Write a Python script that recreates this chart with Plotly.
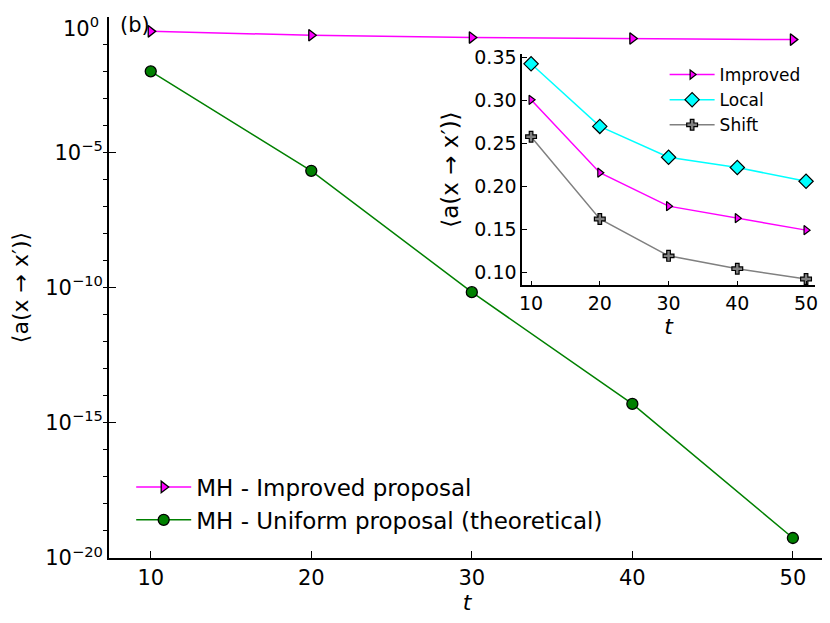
import plotly.graph_objects as go

# Данные основного графика
t = [10, 20, 30, 40, 50]
improved_main = [0.301, 0.216, 0.177, 0.163, 0.149]
uniform_theory = [1.0e-2, 2.1e-6, 6.8e-11, 5.0e-15, 5.5e-20]

# Данные вставки
improved_inset = [0.301, 0.216, 0.177, 0.163, 0.149]
local_inset = [0.343, 0.270, 0.234, 0.222, 0.206]
shift_inset = [0.258, 0.162, 0.119, 0.104, 0.092]

y_tickvals = [1e-20, 1e-15, 1e-10, 1e-5, 1]
# подпись 10^0 у самого края рисуется отдельной аннотацией
y_ticktext = ['10<sup>−20</sup>', '10<sup>−15</sup>', '10<sup>−10</sup>', '10<sup>−5</sup>', '']
top_label = '10<sup>0</sup>'
inset_ticks = [0.10, 0.15, 0.20, 0.25, 0.30, 0.35]

ylab = '⟨a(x → x′)⟩'
font_family = 'DejaVu Sans'

fig = go.Figure()

fig.add_trace(go.Scatter(
    x=t, y=improved_main, mode='lines+markers', name='MH - Improved proposal',
    line=dict(color='#ff00ff', width=1.5),
    marker=dict(symbol='triangle-right', size=10, color='#ff00ff', line=dict(color='black', width=1.3)),
    xaxis='x', yaxis='y', legend='legend'
))
fig.add_trace(go.Scatter(
    x=t, y=uniform_theory, mode='lines+markers', name='MH - Uniform proposal (theoretical)',
    line=dict(color='#008000', width=1.5),
    marker=dict(symbol='circle', size=11, color='#008000', line=dict(color='black', width=1.3)),
    xaxis='x', yaxis='y', legend='legend'
))

# Вставка
fig.add_trace(go.Scatter(
    x=t, y=improved_inset, mode='lines+markers', name='Improved',
    line=dict(color='#ff00ff', width=1.5),
    marker=dict(symbol='triangle-right', size=8, color='#ff00ff', line=dict(color='black', width=1.2)),
    xaxis='x2', yaxis='y2', legend='legend2'
))
fig.add_trace(go.Scatter(
    x=t, y=local_inset, mode='lines+markers', name='Local',
    line=dict(color='#00ffff', width=1.5),
    marker=dict(symbol='diamond', size=11, color='#00ffff', line=dict(color='black', width=1.2)),
    xaxis='x2', yaxis='y2', legend='legend2'
))
fig.add_trace(go.Scatter(
    x=t, y=shift_inset, mode='lines+markers', name='Shift',
    line=dict(color='#808080', width=1.5),
    marker=dict(symbol='cross', size=9, color='#808080', line=dict(color='black', width=1.2)),
    xaxis='x2', yaxis='y2', legend='legend2'
))

# страница имеет отступ 8px, поэтому фигура чуть меньше окна
fig.update_layout(
    width=822, height=615,
    margin=dict(l=101, r=2, t=6, b=65),
    paper_bgcolor='white', plot_bgcolor='white',
    font=dict(family=font_family, size=21, color='black'),
    showlegend=True,
    xaxis=dict(
        domain=[0, 1], range=[7.4, 52], tickvals=t,
        ticks='inside', ticklen=7, tickwidth=1.2, tickcolor='black',
        showline=True, linecolor='black', linewidth=1.8, showgrid=False, zeroline=False,
        tickfont=dict(size=21),
        title=dict(text='<i>t</i>', standoff=2, font=dict(size=22)),
        anchor='y',
    ),
    yaxis=dict(
        domain=[0, 1], type='log', range=[-20, 0.01],
        tickvals=y_tickvals, ticktext=y_ticktext,
        ticks='inside', ticklen=7, tickwidth=1.2, tickcolor='black',
        minor=dict(dtick=1, ticks='outside', ticklen=4, tickwidth=1, tickcolor='black', showgrid=False),
        showline=True, linecolor='black', linewidth=1.8, showgrid=False, zeroline=False,
        tickfont=dict(size=21),
        title=dict(text=ylab, standoff=10, font=dict(size=22)),
        anchor='x', automargin=False,
    ),
    xaxis2=dict(
        domain=[0.577, 0.986], range=[8.7, 51.3], tickvals=t,
        ticks='inside', ticklen=5, tickwidth=1.1, tickcolor='black',
        showline=True, linecolor='black', linewidth=1.5, showgrid=False, zeroline=False,
        tickfont=dict(size=19),
        title=dict(text='<i>t</i>', standoff=2, font=dict(size=22)),
        anchor='y2',
    ),
    yaxis2=dict(
        domain=[0.504, 0.932], range=[0.0846, 0.3547],
        tickvals=inset_ticks, tickformat='.2f',
        ticks='inside', ticklen=5, tickwidth=1.1, tickcolor='black',
        showline=True, linecolor='black', linewidth=1.5, showgrid=False, zeroline=False,
        tickfont=dict(size=19),
        title=dict(text=ylab, standoff=9, font=dict(size=23)),
        anchor='x2',
    ),
    legend=dict(
        x=0.031, y=0.171, xanchor='left', yanchor='top',
        bgcolor='rgba(0,0,0,0)', font=dict(size=23), itemwidth=55,
        tracegroupgap=0,
    ),
    legend2=dict(
        x=0.776, y=0.926, xanchor='left', yanchor='top',
        bgcolor='rgba(0,0,0,0)', font=dict(size=17), itemwidth=45,
    ),
    annotations=[
        dict(
            text='(b)', xref='paper', yref='paper', x=0.012, y=1.0, yshift=6,
            xanchor='left', yanchor='top', showarrow=False, font=dict(size=21),
        ),
        dict(
            text=top_label, xref='paper', yref='paper', x=0, y=1.0, yshift=6, xshift=-8,
            xanchor='right', yanchor='top', showarrow=False, font=dict(size=21),
        ),
    ],
)

fig.write_html('out.html')
